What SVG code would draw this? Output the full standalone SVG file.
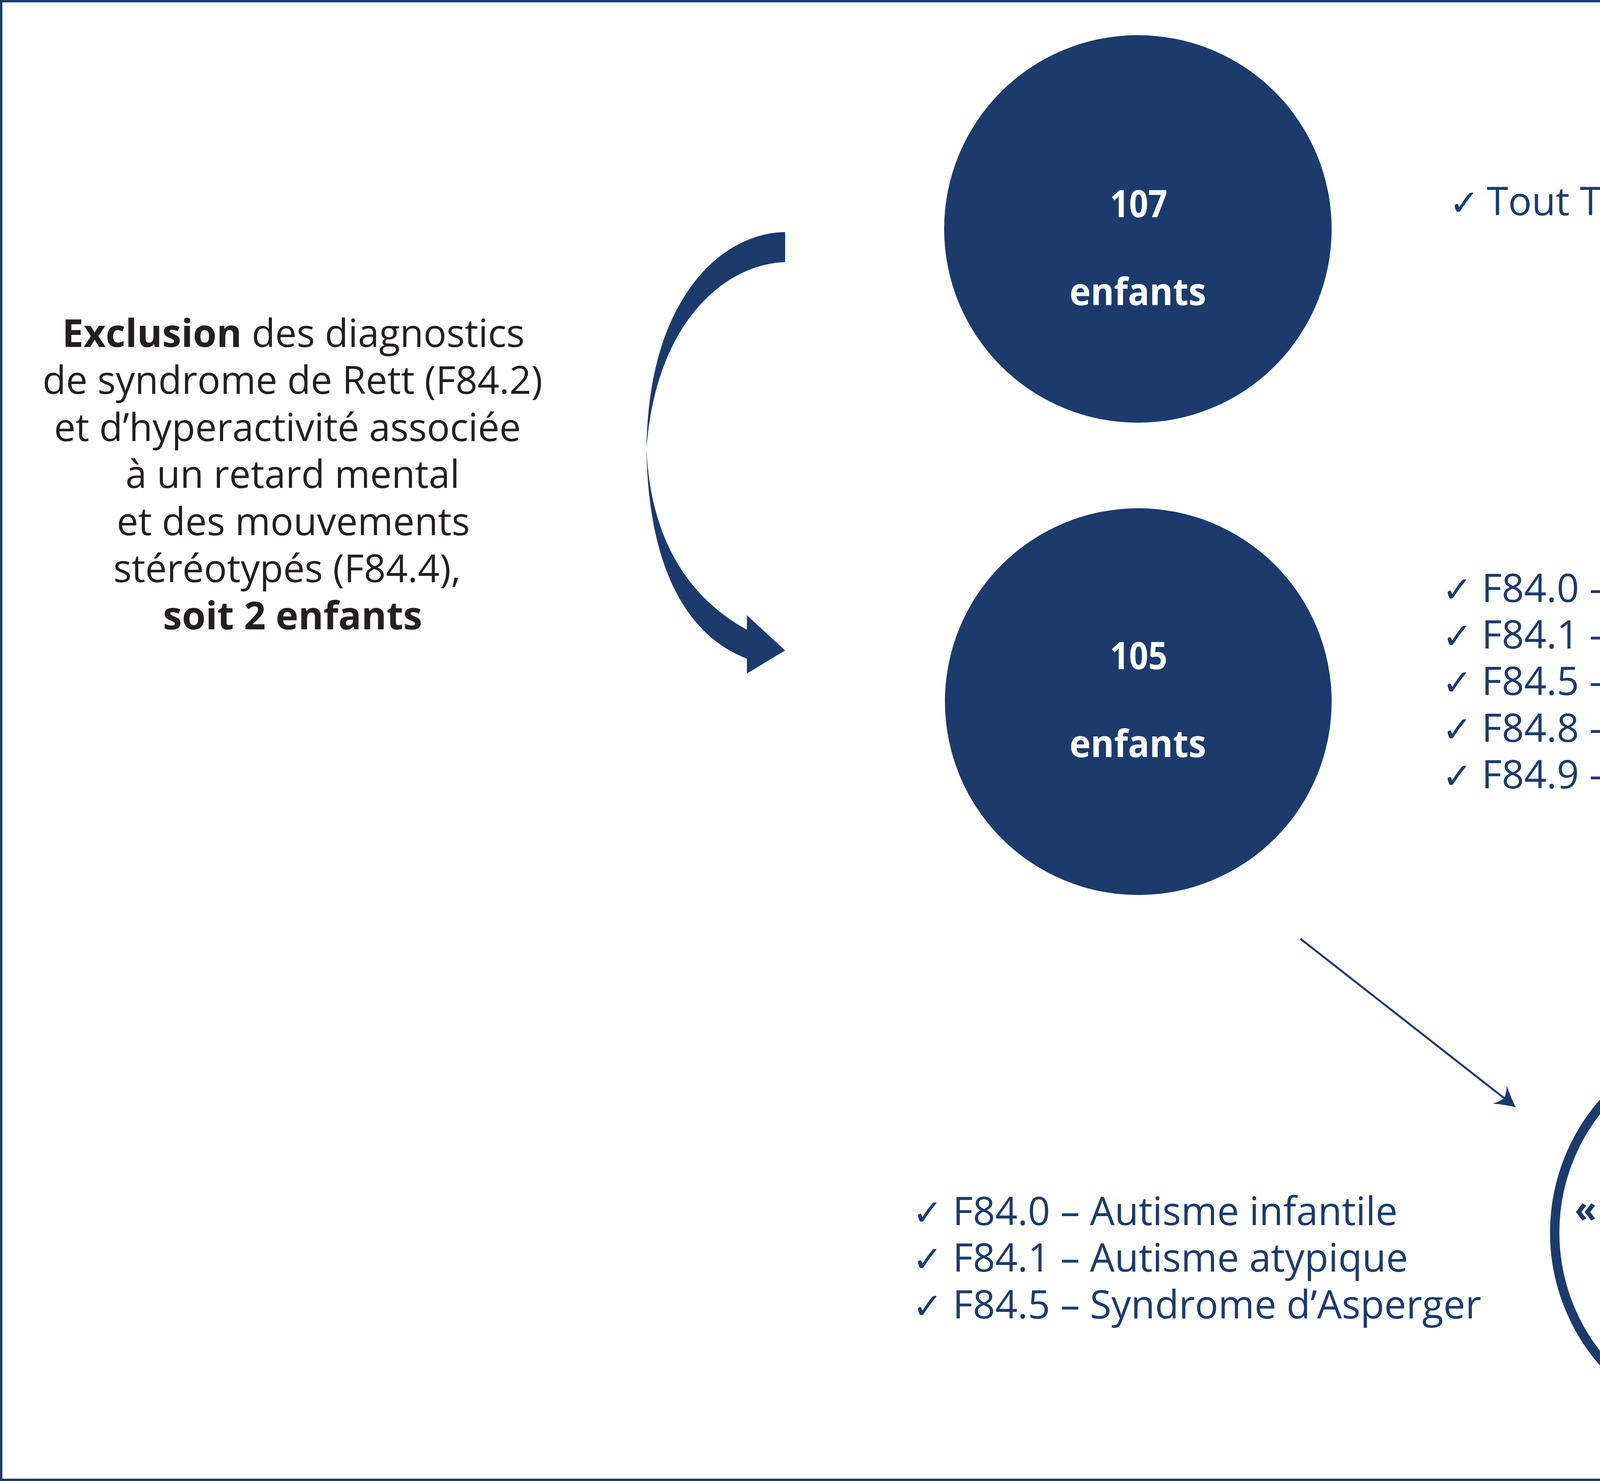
<svg xmlns="http://www.w3.org/2000/svg" width="5282" height="3791" viewBox="0 0 5282 3791">
<style>
.t{font-family:"Open Sans","Noto Sans",sans-serif;font-size:100px;fill:#1c3b6c}
.ck{font-family:"DejaVu Sans",sans-serif;font-size:92px}
.lt{font-family:"Open Sans","Noto Sans",sans-serif;font-size:98px;fill:#231f20;text-anchor:middle}
.b{font-weight:700}
.w{font-family:"Open Sans","Noto Sans",sans-serif;fill:#ffffff;font-weight:700;font-size:96px;text-anchor:middle}
.tsa{font-family:"Open Sans","Noto Sans",sans-serif;fill:#1c3b6c;font-weight:700;font-size:96px;text-anchor:middle}
.navy{fill:#1c3b6c}
</style>
<defs>
<marker id="ah" markerUnits="userSpaceOnUse" viewBox="-60 -35 70 70" markerWidth="70" markerHeight="70" refX="-36" refY="0" orient="auto">
<path d="M0,0 Q-26,-12 -52,-29 Q-40,-12 -38,0 Q-40,12 -52,29 Q-26,12 0,0 Z" fill="#1c3b6c"/>
</marker>
</defs>
<rect x="0" y="0" width="5282" height="3791" fill="#ffffff"/>
<rect x="3" y="3" width="5276" height="3785" fill="none" stroke="#1c3b6c" stroke-width="6"/>

<g id="connectors">
<path id="exclusion-arrow" class="navy" d="M2010,594 C1850,596 1660,760 1655,1147 C1658,1420 1740,1620 1912,1686 L1912,1724 L2010,1665 L1912,1575 L1912,1612 C1780,1540 1665,1400 1655,1147 C1680,820 1860,675 2010,671 Z"/>
<line id="to-tsa" x1="3329" y1="2403" x2="3852" y2="2812" stroke="#1c3b6c" stroke-width="5" marker-end="url(#ah)"/>
</g>

<g id="exclusion-note">
<text class="lt" x="751" y="888"><tspan class="b">Exclusion</tspan> des diagnostics</text>
<text class="lt" x="749" y="1008">de syndrome de Rett (F84.2)</text>
<text class="lt" x="736" y="1129">et d’hyperactivité associée</text>
<text class="lt" x="749" y="1249">à un retard mental</text>
<text class="lt" x="751" y="1370">et des mouvements</text>
<text class="lt" x="735" y="1490">stéréotypés (F84.4),</text>
<text class="lt b" x="749" y="1611">soit 2 enfants</text>
</g>

<g id="node-107">
<circle cx="2913" cy="586" r="496" class="navy"/>
<text class="w" x="2915" y="556" textLength="147" lengthAdjust="spacingAndGlyphs">107</text>
<text class="w" x="2913" y="781" textLength="350" lengthAdjust="spacingAndGlyphs">enfants</text>
</g>

<g id="list-107">
<text class="t" y="551"><tspan class="ck" x="3710">✓</tspan><tspan x="3806">Tout TED – F84</tspan></text>
</g>

<g id="node-105">
<circle cx="2914" cy="1796" r="495" class="navy"/>
<text class="w" x="2915" y="1713" textLength="147" lengthAdjust="spacingAndGlyphs">105</text>
<text class="w" x="2913" y="1938" textLength="350" lengthAdjust="spacingAndGlyphs">enfants</text>
</g>

<g id="list-105">
<text class="t" y="1541"><tspan class="ck" x="3692">✓</tspan><tspan x="3793">F84.0 – Autisme infantile</tspan></text>
<text class="t" y="1660"><tspan class="ck" x="3692">✓</tspan><tspan x="3793">F84.1 – Autisme atypique</tspan></text>
<text class="t" y="1779"><tspan class="ck" x="3692">✓</tspan><tspan x="3793">F84.5 – Syndrome d’Asperger</tspan></text>
<text class="t" y="1899"><tspan class="ck" x="3692">✓</tspan><tspan x="3793">F84.8 – Autre TED</tspan></text>
<text class="t" y="2018"><tspan class="ck" x="3692">✓</tspan><tspan x="3793">F84.9 – TED non spécifié</tspan></text>
</g>

<g id="list-tsa">
<text class="t" y="3136"><tspan class="ck" x="2336">✓</tspan><tspan x="2439">F84.0 – Autisme infantile</tspan></text>
<text class="t" y="3255"><tspan class="ck" x="2336">✓</tspan><tspan x="2439">F84.1 – Autisme atypique</tspan></text>
<text class="t" y="3375"><tspan class="ck" x="2336">✓</tspan><tspan x="2439">F84.5 – Syndrome d’Asperger</tspan></text>
</g>

<g id="node-tsa">
<circle cx="4485" cy="3155" r="505" fill="#ffffff" stroke="#1c3b6c" stroke-width="24"/>
<text class="tsa" x="4487" y="3129" textLength="912" lengthAdjust="spacingAndGlyphs">« Sous-groupe TSA »</text>
<text class="tsa" x="4487" y="3254" textLength="451" lengthAdjust="spacingAndGlyphs">79 enfants</text>
</g>
</svg>
